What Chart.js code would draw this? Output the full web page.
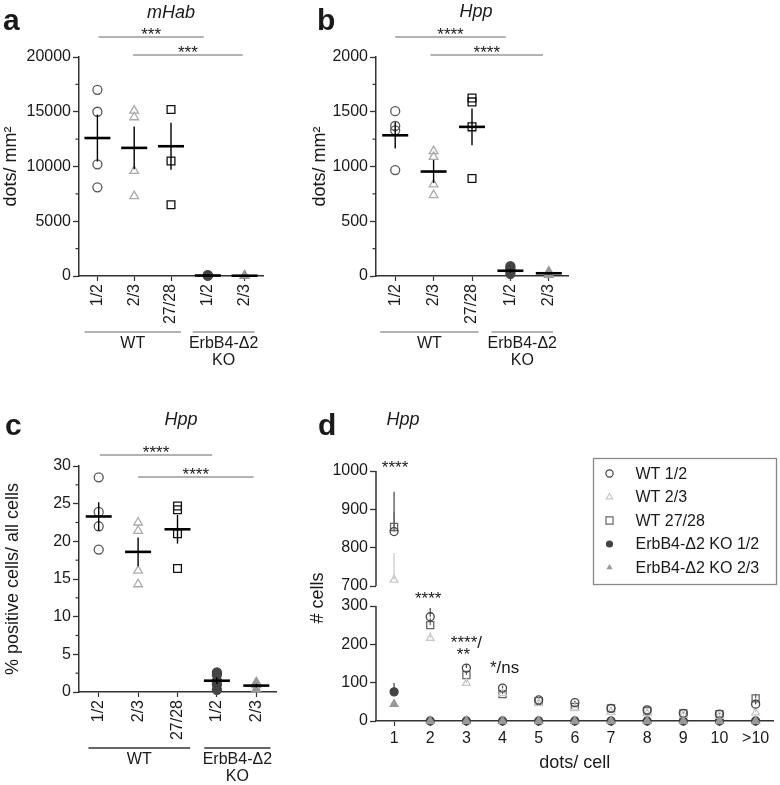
<!DOCTYPE html>
<html>
<head>
<meta charset="utf-8">
<title>mHab / Hpp dots</title>
<script src="https://cdn.jsdelivr.net/npm/chart.js@4.4.1/dist/chart.umd.min.js"></script>
<style>
  html, body { margin: 0; padding: 0; background: #fff; }
  #wrap { position: relative; width: 780px; height: 785px; overflow: hidden; }
  #wrap canvas { position: absolute; left: 0; top: 0; }
</style>
</head>
<body>
<div id="wrap">
  <canvas id="chartA" width="780" height="785"></canvas>
  <canvas id="chartB" width="780" height="785"></canvas>
  <canvas id="chartC" width="780" height="785"></canvas>
  <canvas id="chartD" width="780" height="785"></canvas>
</div>
<script>
// values
const groupLabels = ['1/2', '2/3', '27/28', '1/2', '2/3'];

// a - mHab, dots/mm2
const mhabWT12 = [17000, 15000, 10200, 8100];
const mhabWT23 = [15100, 14500, 9600, 7300];
const mhabWT2728 = [15200, 10500, 6500];
const mhabKO12 = [70, 50, 30];
const mhabKO23 = [40, 25, 10];
const mhabMean = [12600, 11700, 11850, 45, 25];
const mhabSem = [2150, 1950, 2150, 15, 10];

// b - Hpp, dots/mm2
const hppWT12 = [1505, 1370, 1330, 967];
const hppWT23 = [1140, 1088, 836, 739];
const hppWT2728 = [1626, 1590, 1362, 891];
const hppKO12 = [90, 70, 45, 20];
const hppKO23 = [40, 25, 10];
const hppMean = [1285, 954, 1362, 48, 25];
const hppSem = [120, 105, 167, 15, 8];

// c - Hpp, % positive cells
const pctWT12 = [28.5, 23.9, 22.0, 18.9];
const pctWT23 = [22.5, 21.4, 16.1, 14.3];
const pctWT2728 = [24.7, 24.2, 21.0, 16.4];
const pctKO12 = [2.6, 2.3, 1.5, 1.0, 0.3];
const pctKO23 = [1.3, 0.9, 0.4];
const pctMean = [23.3, 18.6, 21.6, 1.5, 0.85];
const pctSem = [1.9, 1.9, 1.9, 0.45, 0.25];

// d - Hpp, # cells per dots/cell bin
const dotCats = ['1', '2', '3', '4', '5', '6', '7', '8', '9', '10', '>10'];
const cellsWT12 = [842, 272, 138, 86, 55, 48, 33, 29, 20, 18, 44];
const cellsWT23 = [716, 216, 99, 72, 46, 33, 23, 20, 16, 13, 22];
const cellsWT2728 = [854, 250, 120, 70, 52, 37, 33, 26, 20, 18, 59];
const cellsKO12 = [76, 0, 0, 0, 0, 0, 0, 0, 0, 0, 0];
const cellsKO23 = [44, 0, 0, 0, 0, 0, 0, 0, 0, 0, 0];
const errWT12 = [104, 23, 10, 6, 4, 5, 3, 3, 2, 2, 12];
const errWT23 = [70, 15, 8, 5, 4, 3, 3, 2, 2, 2, 8];
const errWT2728 = [40, 18, 10, 6, 4, 5, 3, 3, 2, 2, 12];
const errKO12 = [23, 0, 0, 0, 0, 0, 0, 0, 0, 0, 0];
const errKO23 = [8, 0, 0, 0, 0, 0, 0, 0, 0, 0, 0];
const seriesNames = ['WT 1/2', 'WT 2/3', 'WT 27/28', 'ErbB4-\u03942 KO 1/2', 'ErbB4-\u03942 KO 2/3'];

const lowTicks = [0, 100, 200, 300];
const highTicks = [700, 800, 900, 1000];

const FONT = "'Liberation Sans', Arial, sans-serif";
const INK = '#1a1a1a';
const AXIS = '#333';
const BREAK = 500;

Chart.defaults.font.family = FONT;
Chart.defaults.color = INK;

// marker looks
const groupStyle = [
  {style: 'circle', color: '#555', fill: false, r: 4.5},
  {style: 'triangle', color: '#aaa', fill: false, r: 5},
  {style: 'rect', color: '#111', fill: false, r: 5.5},
  {style: 'circle', color: '#444', fill: true, r: 4.5},
  {style: 'triangle', color: '#999', fill: true, r: 5}
];
const seriesStyle = [
  {style: 'circle', color: '#444', fill: false, r: 4},
  {style: 'triangle', color: '#c8c8c8', fill: false, r: 4.5},
  {style: 'rect', color: '#666', fill: false, r: 5},
  {style: 'circle', color: '#444', fill: true, r: 4},
  {style: 'triangle', color: '#999', fill: true, r: 4.5}
];
// KO 2/3 drawn last, over the KO 1/2 dots on the axis
const seriesOrder = [1, 1, 1, 2, 0];

function pointOpts(s) {
  return {
    pointStyle: s.style,
    pointRadius: s.r,
    pointBorderColor: s.color,
    pointBackgroundColor: s.fill ? s.color : 'rgba(0,0,0,0)',
    pointBorderWidth: 1.3,
    showLine: false,
    clip: false
  };
}

function drawMarker(ctx, s, x, y, r) {
  ctx.save();
  ctx.strokeStyle = s.color;
  ctx.fillStyle = s.color;
  ctx.lineWidth = 1.2;
  ctx.beginPath();
  if (s.style === 'circle') {
    ctx.arc(x, y, r, 0, Math.PI * 2);
  } else if (s.style === 'triangle') {
    ctx.moveTo(x, y - r);
    ctx.lineTo(x - r * 0.866, y + r / 2);
    ctx.lineTo(x + r * 0.866, y + r / 2);
    ctx.closePath();
  } else {
    const h = r * 0.707;
    ctx.rect(x - h, y - h, 2 * h, 2 * h);
  }
  if (s.fill) ctx.fill(); else ctx.stroke();
  ctx.restore();
}

// draws the non-data parts: letters, titles, brackets, group lines, minor ticks, legend
function makeAnnot(p) {
  return {
    id: 'annot',
    beforeDatasetsDraw(chart) {
      if (!p.upErr) return;
      const ctx = chart.ctx, xs = chart.scales.x;
      ctx.save();
      ctx.lineWidth = 1.2;
      p.upErr.forEach((s, si) => {
        ctx.strokeStyle = seriesStyle[si].color;
        s.vals.forEach((v, i) => {
          const e = s.err[i];
          if (!e) return;
          const ys = v >= BREAK ? chart.scales.yTop : chart.scales.yBot;
          const px = xs.getPixelForValue(i);
          ctx.beginPath();
          ctx.moveTo(px, ys.getPixelForValue(v));
          ctx.lineTo(px, ys.getPixelForValue(v + e));
          ctx.stroke();
        });
      });
      ctx.restore();
    },
    afterDatasetsDraw(chart) {
      if (!p.mean) return;
      const ctx = chart.ctx, xs = chart.scales.x, ys = chart.scales.y;
      ctx.save();
      ctx.strokeStyle = '#000';
      p.mean.forEach((m, i) => {
        const px = xs.getPixelForValue(i);
        ctx.lineWidth = 1.4;
        ctx.beginPath();
        ctx.moveTo(px, ys.getPixelForValue(m - p.sem[i]));
        ctx.lineTo(px, ys.getPixelForValue(m + p.sem[i]));
        ctx.stroke();
        ctx.lineWidth = 2.6;
        ctx.beginPath();
        ctx.moveTo(px - 13, ys.getPixelForValue(m));
        ctx.lineTo(px + 13, ys.getPixelForValue(m));
        ctx.stroke();
      });
      ctx.restore();
    },
    afterDraw(chart) {
      const ctx = chart.ctx, xs = chart.scales.x;
      ctx.save();
      ctx.fillStyle = INK;
      ctx.textBaseline = 'alphabetic';

      ctx.font = 'bold 30px ' + FONT;
      ctx.textAlign = 'left';
      ctx.fillText(p.letter.t, p.letter.x, p.letter.y);

      ctx.font = 'italic 18px ' + FONT;
      ctx.textAlign = 'center';
      ctx.fillText(p.title.t, p.title.x, p.title.y);

      if (p.minor) {
        const ys = chart.scales.y;
        ctx.strokeStyle = AXIS;
        ctx.lineWidth = 1.2;
        for (let v = p.minor; v < p.yMax; v += 2 * p.minor) {
          const py = ys.getPixelForValue(v);
          ctx.beginPath();
          ctx.moveTo(ys.right - 3.5, py);
          ctx.lineTo(ys.right, py);
          ctx.stroke();
        }
      }

      (p.brackets || []).forEach(b => {
        const x1 = xs.getPixelForValue(b.from), x2 = xs.getPixelForValue(b.to);
        ctx.strokeStyle = '#999';
        ctx.lineWidth = 1.3;
        ctx.beginPath();
        ctx.moveTo(x1, b.y);
        ctx.lineTo(x2, b.y);
        ctx.stroke();
        ctx.font = '17px ' + FONT;
        ctx.textAlign = 'center';
        ctx.fillText(b.t, (x1 + x2) / 2, b.y + 3);
      });

      (p.under || []).forEach(g => {
        const x1 = xs.getPixelForValue(g.from), x2 = xs.getPixelForValue(g.to);
        ctx.strokeStyle = p.underColor;
        ctx.lineWidth = 1.3;
        ctx.beginPath();
        ctx.moveTo(x1, g.y);
        ctx.lineTo(x2, g.y);
        ctx.stroke();
        ctx.font = '16px ' + FONT;
        ctx.textAlign = 'center';
        ctx.textBaseline = 'middle';
        g.lines.forEach((t, k) => ctx.fillText(t, (x1 + x2) / 2, g.y + 11.5 + k * 17.5));
        ctx.textBaseline = 'alphabetic';
      });

      if (p.broken) {
        const yt = chart.scales.yTop, yb = chart.scales.yBot;
        ctx.strokeStyle = AXIS;
        ctx.lineWidth = 1.5;
        ctx.beginPath();
        ctx.moveTo(yt.right, yt.getPixelForValue(highTicks[0]));
        ctx.lineTo(yt.right, yt.getPixelForValue(highTicks[highTicks.length - 1]));
        ctx.moveTo(yb.right, yb.getPixelForValue(lowTicks[0]));
        ctx.lineTo(yb.right, yb.getPixelForValue(lowTicks[lowTicks.length - 1]));
        ctx.stroke();

        ctx.save();
        ctx.font = '18px ' + FONT;
        ctx.textAlign = 'center';
        ctx.textBaseline = 'middle';
        ctx.translate(p.yTitleAt.x, p.yTitleAt.y);
        ctx.rotate(-Math.PI / 2);
        ctx.fillText('# cells', 0, 0);
        ctx.restore();
      }

      (p.texts || []).forEach(t => {
        ctx.font = '17px ' + FONT;
        ctx.textAlign = 'center';
        ctx.fillText(t.t, xs.getPixelForValue(t.cat) + t.dx, t.y);
      });

      if (p.legend) {
        const L = p.legend;
        ctx.strokeStyle = '#888';
        ctx.lineWidth = 1.3;
        ctx.strokeRect(L.left, L.top, L.w, L.h);
        ctx.font = '16px ' + FONT;
        ctx.textAlign = 'left';
        ctx.textBaseline = 'middle';
        seriesNames.forEach((name, i) => {
          const y = L.top + 15 + i * 23.5;
          drawMarker(ctx, seriesStyle[i], L.left + 16, y, seriesStyle[i].style === 'rect' ? 5 : 3.6);
          ctx.fillStyle = INK;
          ctx.fillText(name, L.left + 42, y + 1);
        });
      }
      ctx.restore();
    }
  };
}

function axisBits() {
  return {
    grid: {drawOnChartArea: false, drawTicks: true, tickLength: 6, tickColor: AXIS, tickWidth: 1.3},
    border: {color: AXIS, width: 1.5}
  };
}

function dotPlot(p) {
  const datasets = p.groups.map((vals, gi) => Object.assign(
    {data: vals.map(v => ({x: gi, y: v}))}, pointOpts(groupStyle[gi])));
  return new Chart(document.getElementById(p.canvas), {
    type: 'scatter',
    data: {datasets: datasets},
    options: {
      responsive: false,
      animation: false,
      events: [],
      layout: {padding: p.pad},
      plugins: {legend: {display: false}, tooltip: {enabled: false}},
      scales: {
        x: Object.assign(axisBits(), {
          type: 'linear', min: -0.5, max: groupLabels.length - 0.5,
          afterBuildTicks: s => { s.ticks = groupLabels.map((l, i) => ({value: i})); },
          afterFit: s => { s.height = 60; },
          ticks: {callback: v => groupLabels[v], minRotation: 90, maxRotation: 90, autoSkip: false,
                  padding: 3, font: {size: 16}, color: INK},
          grid: {drawOnChartArea: false, tickLength: 5, tickColor: AXIS, tickWidth: 1.2}
        }),
        y: Object.assign(axisBits(), {
          min: 0, max: p.yMax,
          afterFit: s => { s.width = p.yWidth; },
          ticks: {stepSize: p.yStep, callback: v => String(v), padding: 2, font: {size: 16}, color: INK},
          title: {display: true, text: p.yTitle, font: {size: 18}, padding: {top: 0, bottom: 0}, color: INK}
        })
      }
    },
    plugins: [makeAnnot(p)]
  });
}

dotPlot({
  canvas: 'chartA', pad: {left: 0, right: 517, top: 57, bottom: 449}, yWidth: 79,
  yMax: 20000, yStep: 5000, minor: 2500, yTitle: 'dots/ mm\u00b2',
  groups: [mhabWT12, mhabWT23, mhabWT2728, mhabKO12, mhabKO23], mean: mhabMean, sem: mhabSem,
  letter: {t: 'a', x: 3, y: 30}, title: {t: 'mHab', x: 171, y: 18},
  brackets: [{from: 0.03, to: 2.89, y: 37, t: '***'}, {from: 0.97, to: 3.95, y: 55, t: '***'}],
  under: [{from: -0.35, to: 2.27, y: 332, lines: ['WT']},
          {from: 2.59, to: 4.27, y: 332, lines: ['ErbB4-\u03942', 'KO']}],
  underColor: '#999'
});

dotPlot({
  canvas: 'chartB', pad: {left: 309, right: 212, top: 57, bottom: 449}, yWidth: 67,
  yMax: 2000, yStep: 500, minor: 250, yTitle: 'dots/ mm\u00b2',
  groups: [hppWT12, hppWT23, hppWT2728, hppKO12, hppKO23], mean: hppMean, sem: hppSem,
  letter: {t: 'b', x: 317, y: 30}, title: {t: 'Hpp', x: 476, y: 17},
  brackets: [{from: 0, to: 2.88, y: 37, t: '****'}, {from: 0.92, to: 3.85, y: 55, t: '****'}],
  under: [{from: -0.39, to: 2.17, y: 332, lines: ['WT']},
          {from: 2.51, to: 4.11, y: 332, lines: ['ErbB4-\u03942', 'KO']}],
  underColor: '#999'
});

dotPlot({
  canvas: 'chartC', pad: {left: 2, right: 504, top: 466, bottom: 33}, yWidth: 77,
  yMax: 30, yStep: 5, minor: 2.5, yTitle: '% positive cells/ all cells',
  groups: [pctWT12, pctWT23, pctWT2728, pctKO12, pctKO23], mean: pctMean, sem: pctSem,
  letter: {t: 'c', x: 5, y: 435}, title: {t: 'Hpp', x: 181, y: 425},
  brackets: [{from: 0.03, to: 2.88, y: 455, t: '****'}, {from: 1.0, to: 3.93, y: 477, t: '****'}],
  under: [{from: -0.26, to: 2.32, y: 748, lines: ['WT']},
          {from: 2.68, to: 4.36, y: 748, lines: ['ErbB4-\u03942', 'KO']}],
  underColor: '#333'
});

// d: broken y axis made of two stacked scales
const seriesD = [
  {vals: cellsWT12, err: errWT12},
  {vals: cellsWT23, err: errWT23},
  {vals: cellsWT2728, err: errWT2728},
  {vals: cellsKO12, err: errKO12},
  {vals: cellsKO23, err: errKO23}
];
const dSets = [];
seriesD.forEach((s, si) => {
  const pts = s.vals.map((v, i) => ({x: i, y: v}));
  const look = Object.assign({order: seriesOrder[si]}, pointOpts(seriesStyle[si]));
  dSets.push(Object.assign({yAxisID: 'yBot', data: pts.filter(q => q.y < BREAK)}, look));
  dSets.push(Object.assign({yAxisID: 'yTop', data: pts.filter(q => q.y >= BREAK)}, look));
});

function yPart(tickVals, min, max, weight, stackWeight) {
  return Object.assign(axisBits(), {
    type: 'linear', position: 'left', stack: 'cells', stackWeight: stackWeight, weight: weight,
    min: min, max: max,
    afterBuildTicks: s => { s.ticks = tickVals.map(v => ({value: v})); },
    afterFit: s => { s.width = 60; },
    ticks: {callback: v => String(v), padding: 2, font: {size: 16}, color: INK},
    border: {display: false}
  });
}

new Chart(document.getElementById('chartD'), {
  type: 'scatter',
  data: {datasets: dSets},
  options: {
    responsive: false,
    animation: false,
    events: [],
    layout: {padding: {left: 316, right: 1, top: 471, bottom: 11}},
    plugins: {legend: {display: false}, tooltip: {enabled: false}},
    scales: {
      x: Object.assign(axisBits(), {
        type: 'linear', min: -0.5, max: dotCats.length - 0.5,
        afterBuildTicks: s => { s.ticks = dotCats.map((c, i) => ({value: i})); },
        afterFit: s => { s.height = 53; },
        ticks: {callback: v => dotCats[v], maxRotation: 0, autoSkip: false, padding: 3, font: {size: 16}, color: INK},
        grid: {drawOnChartArea: false, tickLength: 5, tickColor: AXIS, tickWidth: 1.2},
        title: {display: true, text: 'dots/ cell', font: {size: 18}, padding: {top: 0, bottom: 0}, color: INK}
      }),
      yBot: yPart(lowTicks, 0, 352.2, 0, 135),
      yTop: yPart(highTicks, 700, 1000, 1, 115)
    }
  },
  plugins: [makeAnnot({
    letter: {t: 'd', x: 318, y: 435}, title: {t: 'Hpp', x: 403, y: 425},
    broken: true, yTitleAt: {x: 318, y: 598},
    upErr: seriesD,
    texts: [
      {t: '****', cat: 0, dx: 1, y: 473},
      {t: '****', cat: 1, dx: -2, y: 604},
      {t: '****/', cat: 2, dx: 0, y: 648},
      {t: '**', cat: 2, dx: -3, y: 660},
      {t: '*/ns', cat: 3, dx: 2, y: 673}
    ],
    legend: {left: 593.5, top: 458.5, w: 183, h: 126}
  })]
});
</script>
</body>
</html>
